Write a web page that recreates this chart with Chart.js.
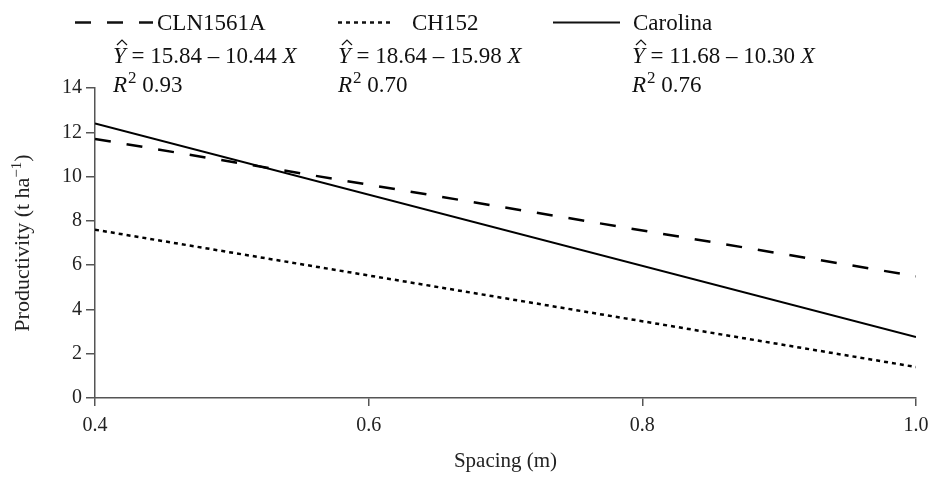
<!DOCTYPE html>
<html>
<head>
<meta charset="utf-8">
<script src="https://cdn.jsdelivr.net/npm/chart.js@4"></script>
<style>
  html, body { margin: 0; padding: 0; background: #fff; }
  #wrap { width: 930px; height: 478px; }
</style>
</head>
<body>
<div id="wrap"><canvas id="spacingChart"></canvas></div>
<script>
// values (straight regression lines)
const spacing = [0.4, 1.0];
const cln1561a = [11.7, 5.5];
const ch152 = [7.6, 1.4];
const carolina = [12.4, 2.75];

const seriesNames = ["CLN1561A", "CH152", "Carolina"];
const equations = ["15.84 – 10.44", "18.64 – 15.98", "11.68 – 10.30"];
const rSquared = ["0.93", "0.70", "0.76"];
const xTicks = [0.4, 0.6, 0.8, 1.0];
const yTicks = [0, 2, 4, 6, 8, 10, 12, 14];

const FONT = "'Liberation Serif', 'Times New Roman', serif";
const AXIS = "#555";

function toPoints(ys) {
    return spacing.map((x, i) => ({ x: x, y: ys[i] }));
}

// line styles per series
const styles = [
    { dash: [16, 16], width: 2.5 },
    { dash: [4, 4], width: 2.5 },
    { dash: [], width: 2 }
];

// legend block drawn above the plot: sample, name, equation, R2
// plus the y title (needs a proper superscript)
const legendBlock = {
    id: "legendBlock",
    afterDraw(chart) {
        const ctx = chart.ctx;
        const cols = [
            { sx: 75, sl: 78, tx: 157, ex: 113 },
            { sx: 338, sl: 54, tx: 412, ex: 338 },
            { sx: 553, sl: 67, tx: 633, ex: 632 }
        ];
        ctx.save();
        ctx.fillStyle = "#111";
        ctx.strokeStyle = "#111";
        ctx.textBaseline = "alphabetic";
        cols.forEach((c, i) => {
            // sample line
            ctx.lineWidth = styles[i].width;
            ctx.setLineDash(styles[i].dash);
            ctx.beginPath();
            ctx.moveTo(c.sx, 22.5);
            ctx.lineTo(c.sx + c.sl, 22.5);
            ctx.stroke();
            ctx.setLineDash([]);

            ctx.font = "23px " + FONT;
            ctx.fillText(seriesNames[i], c.tx, 30);

            // equation with hat
            let x = c.ex;
            ctx.font = "italic 23px " + FONT;
            ctx.fillText("Y", x, 63);
            const yw = ctx.measureText("Y").width;
            ctx.lineWidth = 1.2;
            ctx.beginPath();
            ctx.moveTo(x + 4, 45);
            ctx.lineTo(x + 9, 40);
            ctx.lineTo(x + 14, 45);
            ctx.stroke();
            x += yw;
            ctx.font = "23px " + FONT;
            const mid = " = " + equations[i] + " ";
            ctx.fillText(mid, x, 63);
            x += ctx.measureText(mid).width;
            ctx.font = "italic 23px " + FONT;
            ctx.fillText("X", x, 63);

            // R squared
            x = c.ex;
            ctx.font = "italic 23px " + FONT;
            ctx.fillText("R", x, 92);
            x += ctx.measureText("R").width + 1;
            ctx.font = "17px " + FONT;
            ctx.fillText("2", x, 83);
            x += ctx.measureText("2").width;
            ctx.font = "23px " + FONT;
            ctx.fillText(" " + rSquared[i], x, 92);
        });

        // y axis title, rotated
        const area = chart.chartArea;
        const main = "Productivity (t ha";
        const sup = "\u22121";
        ctx.font = "22px " + FONT;
        const w1 = ctx.measureText(main).width;
        const w3 = ctx.measureText(")").width;
        ctx.font = "15px " + FONT;
        const w2 = ctx.measureText(sup).width;
        const total = w1 + w2 + w3;
        ctx.translate(29, (area.top + area.bottom) / 2);
        ctx.rotate(-Math.PI / 2);
        ctx.fillStyle = "#222";
        let tx = -total / 2;
        ctx.font = "22px " + FONT;
        ctx.fillText(main, tx, 0);
        tx += w1;
        ctx.font = "15px " + FONT;
        ctx.fillText(sup, tx, -8);
        tx += w2;
        ctx.font = "22px " + FONT;
        ctx.fillText(")", tx, 0);
        ctx.restore();
    }
};

const ctx = document.getElementById("spacingChart").getContext("2d");
new Chart(ctx, {
    type: "line",
    data: {
        datasets: [cln1561a, ch152, carolina].map((ys, i) => ({
            label: seriesNames[i],
            data: toPoints(ys),
            borderColor: "#000",
            borderWidth: styles[i].width,
            borderDash: styles[i].dash,
            pointRadius: 0,
            fill: false,
            tension: 0
        }))
    },
    options: {
        responsive: true,
        maintainAspectRatio: false,
        animation: false,
        devicePixelRatio: 1,
        layout: { padding: { top: 88, right: 14, left: 0, bottom: 0 } },
        plugins: {
            legend: { display: false },
            tooltip: { enabled: false }
        },
        scales: {
            x: {
                type: "linear",
                min: 0.4,
                max: 1.0,
                afterBuildTicks: (axis) => { axis.ticks = xTicks.map(v => ({ value: v })); },
                afterFit: (axis) => {
                    axis.height = 80;
                    axis.paddingLeft = 0;
                    axis.paddingRight = 0;
                },
                ticks: {
                    color: "#222",
                    font: { family: FONT, size: 20 },
                    padding: 8,
                    maxRotation: 0,
                    callback: (v) => Number(v).toFixed(1)
                },
                grid: { drawOnChartArea: false, color: AXIS, lineWidth: 1.5, tickLength: 8 },
                border: { color: AXIS, width: 1.5 },
                title: {
                    display: true,
                    text: "Spacing (m)",
                    color: "#222",
                    font: { family: FONT, size: 21 },
                    padding: { top: 12 }
                }
            },
            y: {
                min: 0,
                max: 14,
                afterBuildTicks: (axis) => { axis.ticks = yTicks.map(v => ({ value: v })); },
                afterFit: (axis) => {
                    axis.width = 95;
                    axis.paddingTop = 0;
                    axis.paddingBottom = 0;
                },
                ticks: {
                    color: "#222",
                    font: { family: FONT, size: 20 },
                    padding: 4
                },
                grid: { drawOnChartArea: false, color: AXIS, lineWidth: 1.5, tickLength: 9 },
                border: { color: AXIS, width: 1.5 }
            }
        }
    },
    plugins: [legendBlock]
});
</script>
</body>
</html>
